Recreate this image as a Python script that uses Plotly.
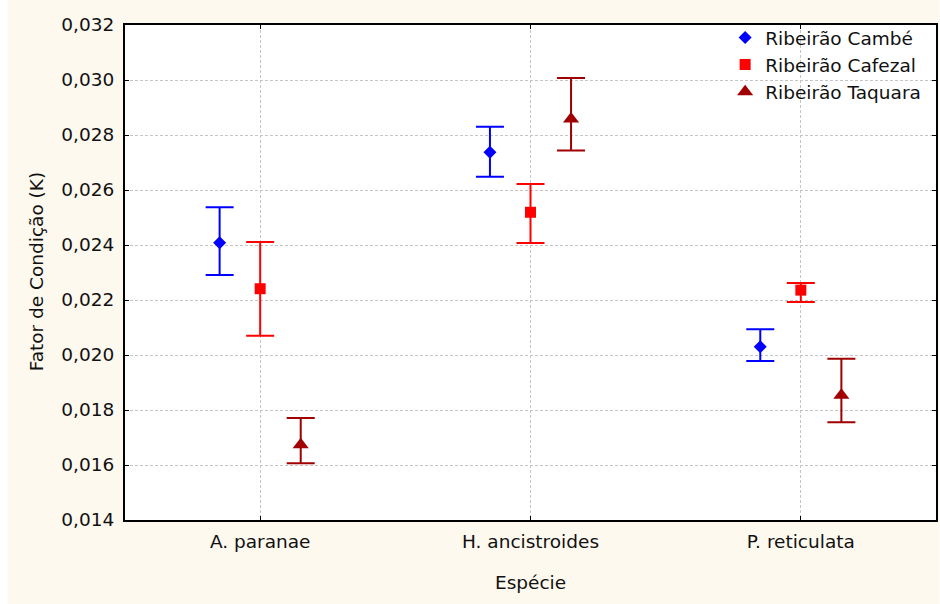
import plotly.graph_objects as go

species = ["A. paranae", "H. ancistroides", "P. reticulata"]
series_names = ["Ribeirão Cambé", "Ribeirão Cafezal", "Ribeirão Taquara"]

cambe_mean = [0.02408, 0.02737, 0.02030]
cambe_low = [0.02291, 0.02648, 0.01978]
cambe_high = [0.02537, 0.02830, 0.02094]

cafezal_mean = [0.02241, 0.02519, 0.02236]
cafezal_low = [0.02070, 0.02407, 0.02193]
cafezal_high = [0.02411, 0.02622, 0.02262]

taquara_mean = [0.01674, 0.02858, 0.01854]
taquara_low = [0.01606, 0.02744, 0.01755]
taquara_high = [0.01771, 0.03007, 0.01986]

y_ticks = [0.014, 0.016, 0.018, 0.020, 0.022, 0.024, 0.026, 0.028, 0.030, 0.032]
y_ticktext = ["0,014", "0,016", "0,018", "0,020", "0,022", "0,024", "0,026", "0,028", "0,030", "0,032"]

FONT = "DejaVu Sans"
FS = 18.5
TXT = "#111111"
CREAM = "#fef9ef"

series = [
    (series_names[0], cambe_mean, cambe_low, cambe_high, "#0000ff", "diamond", 10),
    (series_names[1], cafezal_mean, cafezal_low, cafezal_high, "#ff0000", "square", 11),
    (series_names[2], taquara_mean, taquara_low, taquara_high, "#a00000", "triangle-up", 14),
]

fig = go.Figure()
for i, (name, m, lo, hi, col, sym, sz) in enumerate(series):
    fig.add_trace(go.Scatter(
        x=species, y=m, name=name, mode="markers",
        offsetgroup=str(i),
        marker=dict(color=col, symbol=sym, size=sz, line=dict(width=0)),
        error_y=dict(type="data", symmetric=False,
                     array=[h - v for h, v in zip(hi, m)],
                     arrayminus=[v - l for v, l in zip(m, lo)],
                     color=col, thickness=2, width=14),
    ))

L, R, T, B = 125, 1.5, 25, 84
W, H = 940, 604
pw = W - L - R
ph = H - T - B

fig.update_layout(
    width=W, height=H,
    margin=dict(l=L, r=R, t=T, b=B, pad=0),
    paper_bgcolor="white",
    plot_bgcolor="white",
    scattermode="group",
    scattergap=0.55,
    font=dict(family=FONT, size=FS, color=TXT),
    showlegend=True,
    legend=dict(x=0.74, y=1.0 + 6 / 495, xanchor="left", yanchor="top",
                bgcolor="rgba(0,0,0,0)", borderwidth=0,
                font=dict(family=FONT, size=FS, color=TXT),
                itemwidth=30, tracegroupgap=0),
    shapes=[
        dict(type="rect", xref="paper", yref="paper", layer="below",
             x0=(7 - L) / pw, x1=1 + (R + 2) / pw, y0=-(B + 2) / ph, y1=1 + (T + 2) / ph,
             fillcolor=CREAM, line=dict(width=0)),
        dict(type="rect", xref="paper", yref="paper", layer="below",
             x0=0, x1=1, y0=0, y1=1, fillcolor="white", line=dict(width=0)),
    ],
    annotations=[
        dict(text="Espécie", xref="paper", yref="paper", x=(532 - L) / pw, y=-(582 - T - ph) / ph,
             showarrow=False, xanchor="center", yanchor="middle",
             font=dict(family=FONT, size=FS, color=TXT)),
        dict(text="Fator de Condição (K)", xref="paper", yref="paper", x=(36 - L) / pw, y=(T + ph - 272) / ph,
             showarrow=False, xanchor="center", yanchor="middle", textangle=-90,
             font=dict(family=FONT, size=FS, color=TXT)),
    ],
)

fig.update_xaxes(
    type="category", range=[-0.5, 2.5],
    showline=True, linecolor="black", linewidth=2, mirror="ticks",
    ticks="inside", ticklen=4, tickcolor="black", tickwidth=1,
    showgrid=True, gridcolor="#c4c4c4", gridwidth=1, griddash="3px,2px",
    zeroline=False, ticklabelstandoff=4,
    tickfont=dict(family=FONT, size=FS, color=TXT),
)
fig.update_yaxes(
    range=[0.014, 0.032], tickvals=y_ticks, ticktext=y_ticktext,
    showline=True, linecolor="black", linewidth=2, mirror="ticks",
    ticks="inside", ticklen=4, tickcolor="black", tickwidth=1,
    showgrid=True, gridcolor="#c4c4c4", gridwidth=1, griddash="3px,2px",
    zeroline=False, ticklabelstandoff=5,
    tickfont=dict(family=FONT, size=FS, color=TXT),
)

fig.write_html("out.html")
